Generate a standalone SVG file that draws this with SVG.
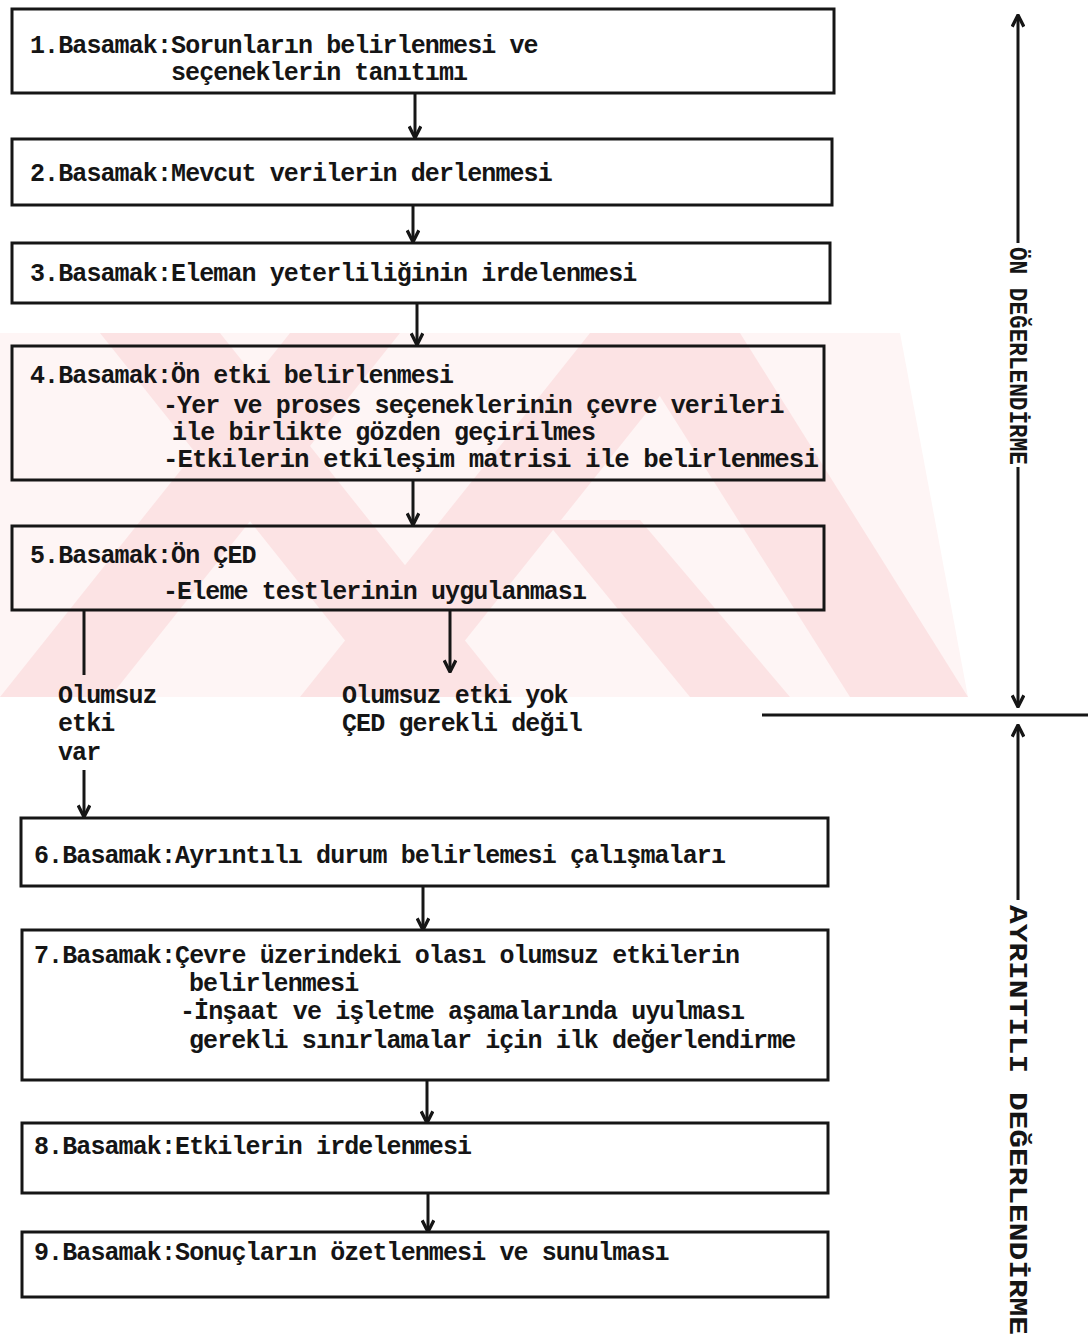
<svg xmlns="http://www.w3.org/2000/svg" width="1091" height="1337" viewBox="0 0 1091 1337">
<style>
.bg{fill:#ffffff}
.wm-base{fill:#fef5f5}
.wm{fill:#fce3e4}
.box{fill:none;stroke:#161616;stroke-width:3}
.t{font-family:"Liberation Mono","DejaVu Sans Mono",monospace;font-weight:bold;font-size:25px;letter-spacing:-0.9px;fill:#151515}
.vt{font-family:"Liberation Mono","DejaVu Sans Mono",monospace;font-weight:bold;font-size:25px;fill:#151515}
.c{stroke:#161616;stroke-width:3;fill:none}
</style>
<defs>
<marker id="ah" viewBox="0 0 12 12" refX="11" refY="6" markerWidth="14" markerHeight="14" markerUnits="userSpaceOnUse" orient="auto-start-reverse">
<path d="M1,1 L11,6 L1,11" fill="none" stroke="#161616" stroke-width="2.8"/>
</marker>
</defs>
<rect class="bg" x="0" y="0" width="1091" height="1337"/>
<g id="watermark">
<polygon class="wm-base" points="0,333 900,333 968,697 0,697"/>
<polygon class="wm" points="0,697 110,697 400,333 290,333"/>
<polygon class="wm" points="100,333 220,333 510,697 390,697"/>
<polygon class="wm" points="300,697 420,697 710,333 590,333"/>
<polygon class="wm" points="620,333 740,333 968,697 850,697"/>
<polygon class="wm" points="545,520 640,520 790,697 690,697"/>
</g>
<g id="connectors">
<line class="c" x1="415" y1="93" x2="415" y2="138" marker-end="url(#ah)"/>
<line class="c" x1="413" y1="205" x2="413" y2="242" marker-end="url(#ah)"/>
<line class="c" x1="417" y1="303" x2="417" y2="345" marker-end="url(#ah)"/>
<line class="c" x1="413" y1="480" x2="413" y2="525" marker-end="url(#ah)"/>
<line class="c" x1="84" y1="610" x2="84" y2="675"/>
<line class="c" x1="450" y1="610" x2="450" y2="672" marker-end="url(#ah)"/>
<line class="c" x1="84" y1="770" x2="84" y2="817" marker-end="url(#ah)"/>
<line class="c" x1="423" y1="886" x2="423" y2="930" marker-end="url(#ah)"/>
<line class="c" x1="427" y1="1080" x2="427" y2="1123" marker-end="url(#ah)"/>
<line class="c" x1="428" y1="1193" x2="428" y2="1232" marker-end="url(#ah)"/>
<line class="c" x1="1018" y1="15" x2="1018" y2="243" marker-start="url(#ah)"/>
<line class="c" x1="1018" y1="467" x2="1018" y2="707" marker-end="url(#ah)"/>
<line class="c" x1="762" y1="715" x2="1088" y2="715"/>
<line class="c" x1="1018" y1="725" x2="1018" y2="900" marker-start="url(#ah)"/>
</g>
<g id="node1">
<rect class="box" x="12" y="9" width="822" height="84"/>
<text class="t" x="30" y="53">1.Basamak:Sorunların belirlenmesi ve</text>
<text class="t" x="171" y="80">seçeneklerin tanıtımı</text>
</g>
<g id="node2">
<rect class="box" x="12" y="139" width="820" height="66"/>
<text class="t" x="30" y="181">2.Basamak:Mevcut verilerin derlenmesi</text>
</g>
<g id="node3">
<rect class="box" x="12" y="243" width="818" height="60"/>
<text class="t" x="30" y="281">3.Basamak:Eleman yeterliliğinin irdelenmesi</text>
</g>
<g id="node4">
<rect class="box" x="12" y="346" width="812" height="134"/>
<text class="t" x="30" y="383">4.Basamak:Ön etki belirlenmesi</text>
<text class="t" x="163" y="413">-Yer ve proses seçeneklerinin çevre verileri</text>
<text class="t" x="172" y="440">ile birlikte gözden geçirilmes</text>
<text class="t" x="163" y="467" textLength="655" lengthAdjust="spacingAndGlyphs">-Etkilerin etkileşim matrisi ile belirlenmesi</text>
</g>
<g id="node5">
<rect class="box" x="12" y="526" width="812" height="84"/>
<text class="t" x="30" y="563">5.Basamak:Ön ÇED</text>
<text class="t" x="163" y="599">-Eleme testlerinin uygulanması</text>
</g>
<g id="label-neg">
<text class="t" x="58" y="703">Olumsuz</text>
<text class="t" x="58" y="731">etki</text>
<text class="t" x="58" y="760">var</text>
</g>
<g id="label-pos">
<text class="t" x="342" y="703">Olumsuz etki yok</text>
<text class="t" x="342" y="731">ÇED gerekli değil</text>
</g>
<g id="node6">
<rect class="box" x="21" y="818" width="807" height="68"/>
<text class="t" x="34" y="863">6.Basamak:Ayrıntılı durum belirlemesi çalışmaları</text>
</g>
<g id="node7">
<rect class="box" x="22" y="930" width="806" height="150"/>
<text class="t" x="34" y="963">7.Basamak:Çevre üzerindeki olası olumsuz etkilerin</text>
<text class="t" x="189" y="991">belirlenmesi</text>
<text class="t" x="180" y="1019">-İnşaat ve işletme aşamalarında uyulması</text>
<text class="t" x="189" y="1048">gerekli sınırlamalar için ilk değerlendirme</text>
</g>
<g id="node8">
<rect class="box" x="22" y="1123" width="806" height="70"/>
<text class="t" x="34" y="1154">8.Basamak:Etkilerin irdelenmesi</text>
</g>
<g id="node9">
<rect class="box" x="22" y="1232" width="806" height="65"/>
<text class="t" x="34" y="1260">9.Basamak:Sonuçların özetlenmesi ve sunulması</text>
</g>
<g id="phase-on">
<text class="vt" transform="translate(1018,247) rotate(90)" x="0" y="8" textLength="218" lengthAdjust="spacingAndGlyphs">ÖN DEĞERLENDİRME</text>
</g>
<g id="phase-ayrintili">
<text class="vt" transform="translate(1018,905) rotate(90)" x="0" y="8" textLength="430" lengthAdjust="spacingAndGlyphs">AYRINTILI DEĞERLENDİRME</text>
</g>
</svg>
